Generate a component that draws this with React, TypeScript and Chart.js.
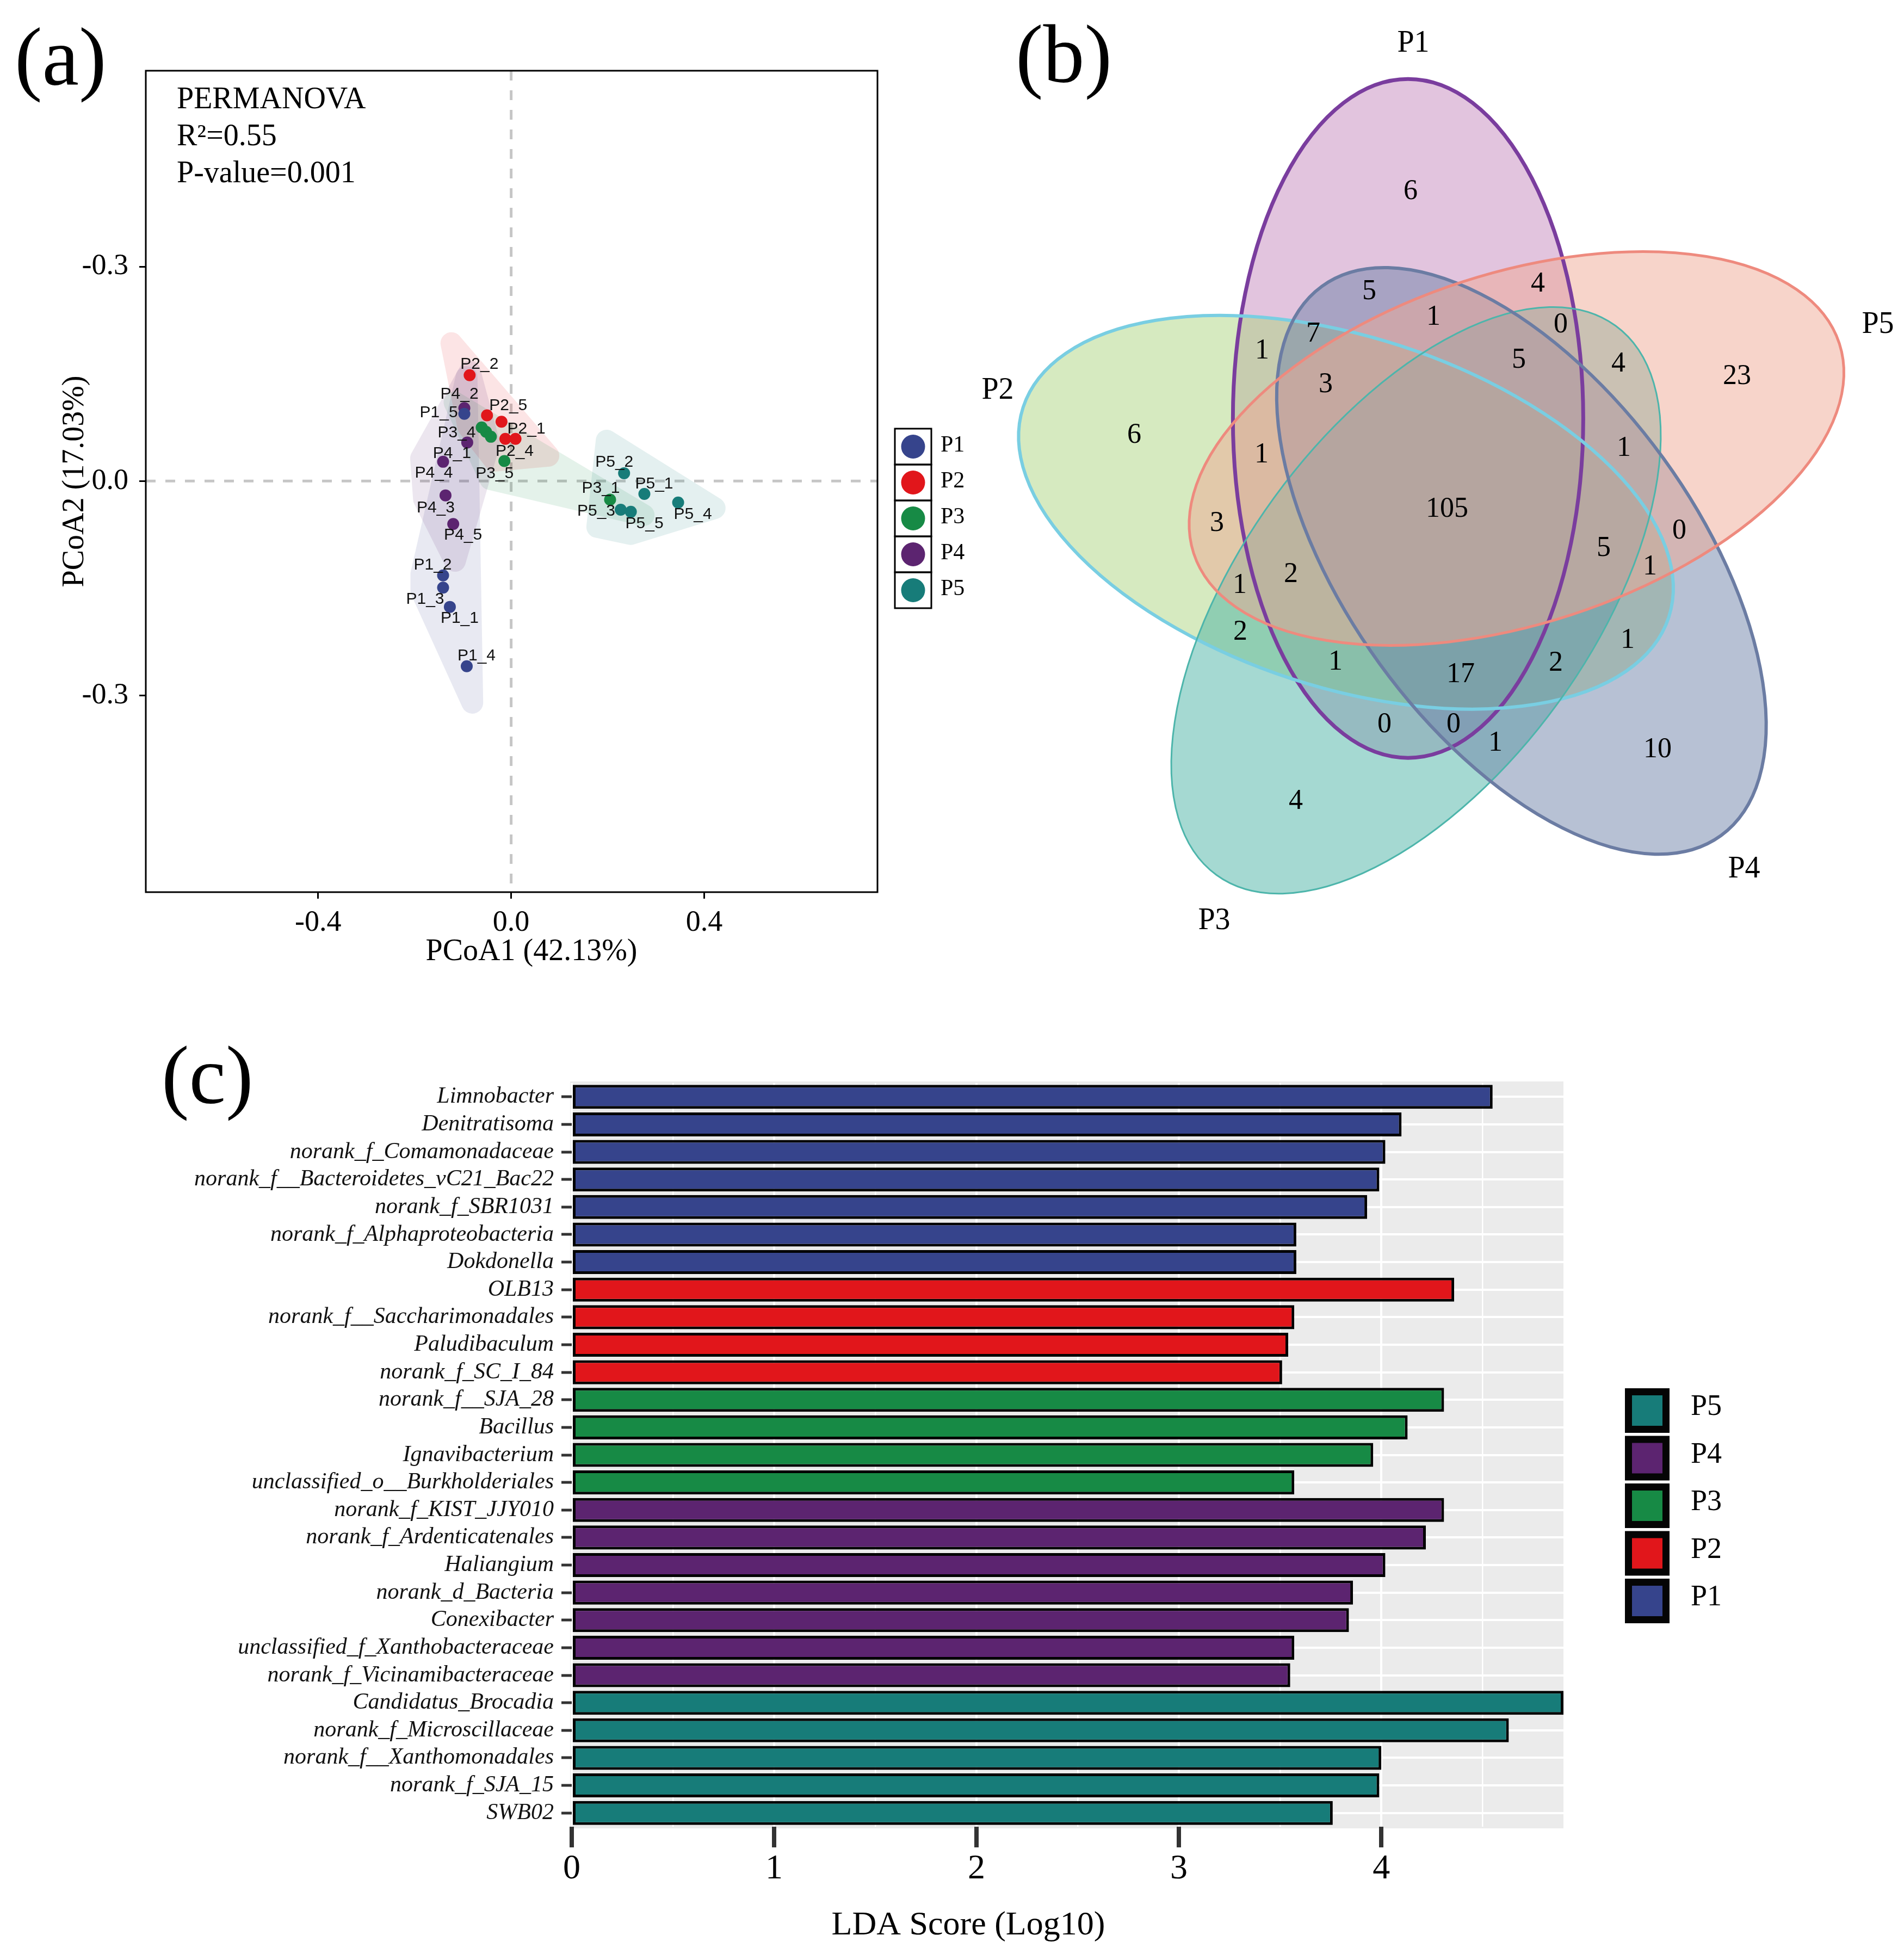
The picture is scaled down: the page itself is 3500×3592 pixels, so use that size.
import React, { useEffect, useRef } from 'react';
import { Chart, registerables } from 'chart.js';

Chart.register(...registerables);

const SERIF = '"Liberation Serif", "Times New Roman", Times, serif';
const SANS = '"Liberation Sans", Arial, Helvetica, sans-serif';

// ---------------- Panel (a): PCoA ----------------
const GROUP_NAMES = ['P1', 'P2', 'P3', 'P4', 'P5'];
const GROUP_COLORS = ['#36448C', '#E1161B', '#178A45', '#5C2470', '#177C79'];

const P1_LABELS = ['P1_1', 'P1_2', 'P1_3', 'P1_4', 'P1_5'];
const P1_X = [-0.127, -0.141, -0.141, -0.092, -0.097];
const P1_Y = [-0.176, -0.132, -0.149, -0.259, 0.094];

const P2_LABELS = ['P2_1', 'P2_2', '', 'P2_4', 'P2_5'];
const P2_X = [0.009, -0.086, -0.02, -0.012, -0.05];
const P2_Y = [0.059, 0.148, 0.083, 0.059, 0.092];

const P3_LABELS = ['P3_1', '', '', 'P3_4', 'P3_5'];
const P3_X = [0.205, -0.052, -0.042, -0.061, -0.014];
const P3_Y = [-0.026, 0.069, 0.062, 0.075, 0.028];

const P4_LABELS = ['P4_1', 'P4_2', 'P4_3', 'P4_4', 'P4_5'];
const P4_X = [-0.091, -0.097, -0.136, -0.141, -0.12];
const P4_Y = [0.054, 0.102, -0.02, 0.027, -0.06];

const P5_LABELS = ['P5_1', 'P5_2', 'P5_3', 'P5_4', 'P5_5'];
const P5_X = [0.276, 0.234, 0.227, 0.346, 0.248];
const P5_Y = [-0.018, 0.011, -0.04, -0.03, -0.043];

const PCOA_X_TICKS = [-0.4, 0, 0.4];
const PCOA_X_TICK_LABELS = ['-0.4', '0.0', '0.4'];
const PCOA_Y_TICKS = [-0.3, 0, 0.3];
const PCOA_Y_TICK_LABELS = ['-0.3', '0.0', '-0.3'];
const PERMANOVA_LINES = ['PERMANOVA', 'R\u00B2=0.55', 'P-value=0.001'];

// label placement offsets (px) for sample names (layout only)
const LABEL_OFFSETS: Record<string, [number, number]> = {
  P1_1: [18, 21], P1_2: [-19, -19], P1_3: [-33, 22], P1_4: [18, -19], P1_5: [-47, -2],
  P2_1: [20, -18], P2_2: [18, -20], P2_4: [17, 23], P2_5: [39, -18],
  P3_1: [-17, -21], P3_4: [-46, 10], P3_5: [-18, 23],
  P4_1: [-28, 20], P4_2: [-9, -26], P4_3: [-18, 23], P4_4: [-17, 21], P4_5: [18, 21],
  P5_1: [18, -18], P5_2: [-18, -20], P5_3: [-45, 3], P5_4: [27, 22], P5_5: [25, 22],
};

const PCOA_GROUPS = [
  { x: P1_X, y: P1_Y, labels: P1_LABELS },
  { x: P2_X, y: P2_Y, labels: P2_LABELS },
  { x: P3_X, y: P3_Y, labels: P3_LABELS },
  { x: P4_X, y: P4_Y, labels: P4_LABELS },
  { x: P5_X, y: P5_Y, labels: P5_LABELS },
];

// ---------------- Panel (b): Venn ----------------
const VENN_SETS = ['P1', 'P2', 'P3', 'P4', 'P5'];
const VENN_COUNTS = [6, 5, 4, 1, 0, 1, 7, 3, 5, 4, 23, 6, 1, 1, 105, 3, 0, 5, 1, 2, 1, 2, 1, 1, 17, 2, 0, 0, 1, 10, 4];
// layout: positions of the region counts in diagram units (px relative to diagram centre)
const VENN_COUNT_X = [-57, -133, 177, -15, 219, -330, -236, -213, 142, 325, 543, -565, -331, 335, 10, -413, 437, 298, 383, -277, -371, -370, 342, -195, 35, 210, -105, 22, 99, 397, -268];
const VENN_COUNT_Y = [-582, -398, -412, -351, -337, -289, -320, -227, -272, -265, -242, -134, -98, -110, 2, 28, 42, 74, 108, 122, 142, 228, 243, 283, 306, 285, 398, 398, 432, 444, 539];
const VENN_SET_LABEL_X = [-52, -816, -418, 556, 802];
const VENN_SET_LABEL_Y = [-854, -216, 759, 664, -337];
const VENN_FILLS = ['#C589BD', '#ADD581', '#4BB3A5', '#6F83A9', '#EFA995'];
const VENN_STROKES = ['#7A3D9E', '#79CEE2', '#4DB5AB', '#6B7CA3', '#EE8A7E'];
const VENN_STROKE_W = [7, 6, 3, 6, 5];
const VENN_STEP = [0, 4, 3, 2, 1]; // rotation step (x72 deg) of each ellipse

// ---------------- Panel (c): LDA ----------------
const LDA_TAXA = [
  'Limnobacter', 'Denitratisoma', 'norank_f_Comamonadaceae', 'norank_f__Bacteroidetes_vC21_Bac22',
  'norank_f_SBR1031', 'norank_f_Alphaproteobacteria', 'Dokdonella', 'OLB13', 'norank_f__Saccharimonadales',
  'Paludibaculum', 'norank_f_SC_I_84', 'norank_f__SJA_28', 'Bacillus', 'Ignavibacterium',
  'unclassified_o__Burkholderiales', 'norank_f_KIST_JJY010', 'norank_f_Ardenticatenales', 'Haliangium',
  'norank_d_Bacteria', 'Conexibacter', 'unclassified_f_Xanthobacteraceae', 'norank_f_Vicinamibacteraceae',
  'Candidatus_Brocadia', 'norank_f_Microscillaceae', 'norank_f__Xanthomonadales', 'norank_f_SJA_15', 'SWB02',
];
const LDA_SCORES = [4.55, 4.1, 4.02, 3.99, 3.93, 3.58, 3.58, 4.36, 3.57, 3.54, 3.51, 4.31, 4.13, 3.96, 3.57,
  4.31, 4.22, 4.02, 3.86, 3.84, 3.57, 3.55, 4.9, 4.63, 4.0, 3.99, 3.76];
const LDA_GROUP = ['P1', 'P1', 'P1', 'P1', 'P1', 'P1', 'P1', 'P2', 'P2', 'P2', 'P2', 'P3', 'P3', 'P3', 'P3',
  'P4', 'P4', 'P4', 'P4', 'P4', 'P4', 'P4', 'P5', 'P5', 'P5', 'P5', 'P5'];
const LDA_LEGEND = ['P5', 'P4', 'P3', 'P2', 'P1'];
const LDA_X_MAX = 4.9;

const colorOf = (g: string) => GROUP_COLORS[GROUP_NAMES.indexOf(g)];

function convexHull(points: number[][]): number[][] {
  const pts = points.slice().sort((a, b) => a[0] - b[0] || a[1] - b[1]);
  if (pts.length < 3) return pts;
  const cross = (o: number[], a: number[], b: number[]) => (a[0] - o[0]) * (b[1] - o[1]) - (a[1] - o[1]) * (b[0] - o[0]);
  const lower: number[][] = [];
  for (const p of pts) {
    while (lower.length >= 2 && cross(lower[lower.length - 2], lower[lower.length - 1], p) <= 0) lower.pop();
    lower.push(p);
  }
  const upper: number[][] = [];
  for (let i = pts.length - 1; i >= 0; i--) {
    const p = pts[i];
    while (upper.length >= 2 && cross(upper[upper.length - 2], upper[upper.length - 1], p) <= 0) upper.pop();
    upper.push(p);
  }
  upper.pop();
  lower.pop();
  return lower.concat(upper);
}

// expand a convex polygon with mitred corners (capped), giving pointed tips at acute vertices
function offsetHull(h: number[][], d: number, cap: number): number[][] {
  const n = h.length;
  if (n < 3) return h;
  const cx = h.reduce((s, p) => s + p[0], 0) / n;
  const cy = h.reduce((s, p) => s + p[1], 0) / n;
  const edgeNormal = (a: number[], b: number[]) => {
    const ex = b[0] - a[0], ey = b[1] - a[1];
    const len = Math.hypot(ex, ey) || 1;
    let nx = ey / len, ny = -ex / len;
    const mx = (a[0] + b[0]) / 2 - cx, my = (a[1] + b[1]) / 2 - cy;
    if (nx * mx + ny * my < 0) { nx = -nx; ny = -ny; }
    return [nx, ny];
  };
  return h.map((p, i) => {
    const a = h[(i - 1 + n) % n], b = h[(i + 1) % n];
    const n1 = edgeNormal(a, p), n2 = edgeNormal(p, b);
    let bx = n1[0] + n2[0], by = n1[1] + n2[1];
    const bl = Math.hypot(bx, by) || 1;
    bx /= bl; by /= bl;
    const c = Math.max(bx * n1[0] + by * n1[1], 1e-3);
    const dist = Math.min(d / c, d * cap);
    return [p[0] + bx * dist, p[1] + by * dist];
  });
}

function PcoaPanel() {
  const ref = useRef<HTMLCanvasElement>(null);
  useEffect(() => {
    const backdrop = {
      id: 'pcoaBackdrop',
      beforeDatasetsDraw(chart: any) {
        const { ctx, chartArea: ca, scales } = chart;
        const xs = scales.x, ys = scales.y;
        ctx.save();
        ctx.strokeStyle = '#C6C6C6';
        ctx.lineWidth = 5;
        ctx.setLineDash([18, 18]);
        const x0 = xs.getPixelForValue(0);
        const y0 = ys.getPixelForValue(0);
        ctx.beginPath();
        ctx.moveTo(x0, ca.top); ctx.lineTo(x0, ca.bottom);
        ctx.moveTo(ca.left, y0); ctx.lineTo(ca.right, y0);
        ctx.stroke();
        ctx.restore();
        const off = document.createElement('canvas');
        off.width = chart.canvas.width;
        off.height = chart.canvas.height;
        const o = off.getContext('2d')!;
        PCOA_GROUPS.forEach((g, gi) => {
          o.clearRect(0, 0, off.width, off.height);
          const pts = g.x.map((v, i) => [xs.getPixelForValue(v), ys.getPixelForValue(g.y[i])]);
          const h = offsetHull(convexHull(pts), 40, 1.7);
          o.beginPath();
          h.forEach((p, i) => (i ? o.lineTo(p[0], p[1]) : o.moveTo(p[0], p[1])));
          o.closePath();
          o.fillStyle = GROUP_COLORS[gi];
          o.strokeStyle = GROUP_COLORS[gi];
          o.lineWidth = 40;
          o.lineJoin = 'round';
          o.fill();
          o.stroke();
          ctx.save();
          ctx.globalAlpha = 0.115;
          ctx.drawImage(off, 0, 0);
          ctx.restore();
        });
      },
    };
    const overlay = {
      id: 'pcoaOverlay',
      afterDatasetsDraw(chart: any) {
        const { ctx, scales } = chart;
        ctx.save();
        ctx.fillStyle = '#111';
        ctx.font = `30px ${SANS}`;
        ctx.textAlign = 'center';
        ctx.textBaseline = 'middle';
        PCOA_GROUPS.forEach((g) => {
          g.labels.forEach((lab, i) => {
            if (!lab) return;
            const px = scales.x.getPixelForValue(g.x[i]);
            const py = scales.y.getPixelForValue(g.y[i]);
            const [dx, dy] = LABEL_OFFSETS[lab] || [18, -20];
            ctx.fillText(lab, px + dx, py + dy);
          });
        });
        ctx.restore();
      },
      afterDraw(chart: any) {
        const { ctx, chartArea: ca } = chart;
        ctx.save();
        ctx.strokeStyle = '#000';
        ctx.lineWidth = 3;
        ctx.strokeRect(ca.left, ca.top, ca.right - ca.left, ca.bottom - ca.top);
        ctx.fillStyle = '#000';
        ctx.font = `56px ${SERIF}`;
        ctx.textAlign = 'left';
        ctx.textBaseline = 'alphabetic';
        PERMANOVA_LINES.forEach((t, i) => ctx.fillText(t, ca.left + 57, ca.top + 69 + i * 68));
        // x axis title
        ctx.textAlign = 'center';
        ctx.textBaseline = 'middle';
        ctx.fillText('PCoA1 (42.13%)', 977, 1750);
        ctx.textAlign = 'left';
        // legend
        const lx = ca.right + 32, ly = 788, bw = 67, bh = 66;
        GROUP_NAMES.forEach((name, i) => {
          const top = ly + i * bh;
          ctx.lineWidth = 3;
          ctx.strokeStyle = '#000';
          ctx.strokeRect(lx, top, bw, bh);
          ctx.beginPath();
          ctx.fillStyle = GROUP_COLORS[i];
          ctx.arc(lx + bw / 2, top + bh / 2, 22, 0, Math.PI * 2);
          ctx.fill();
          ctx.fillStyle = '#000';
          ctx.font = `42px ${SERIF}`;
          ctx.textBaseline = 'middle';
          ctx.fillText(name, lx + bw + 17, top + bh / 2 - 2);
        });
        ctx.textBaseline = 'alphabetic';
        ctx.font = `152px ${SERIF}`;
        ctx.fillText('(a)', 27, 156);
        ctx.restore();
      },
    };
    const chart = new Chart(ref.current!, {
      type: 'scatter',
      data: {
        datasets: PCOA_GROUPS.map((g, gi) => ({
          label: GROUP_NAMES[gi],
          data: g.x.map((v, i) => ({ x: v, y: g.y[i] })),
          backgroundColor: GROUP_COLORS[gi],
          borderWidth: 0,
          pointRadius: 11,
          pointHoverRadius: 11,
        })),
      },
      options: {
        animation: false,
        responsive: false,
        devicePixelRatio: 1,
        events: [],
        layout: { padding: { left: 110, top: 130, right: 187, bottom: 0 } },
        plugins: { legend: { display: false }, tooltip: { enabled: false } },
        scales: {
          x: {
            type: 'linear', min: -0.757, max: 0.759,
            afterFit: (s: any) => { s.height = 160; },
            afterBuildTicks: (s: any) => { s.ticks = PCOA_X_TICKS.map((v) => ({ value: v })); },
            grid: { drawOnChartArea: false, drawTicks: true, tickLength: 12, tickWidth: 3, tickColor: '#000' },
            border: { display: false },
            ticks: {
              color: '#000', padding: 12, font: { family: SERIF, size: 54 },
              callback: (_v: any, i: number) => PCOA_X_TICK_LABELS[i],
            },
          },
          y: {
            type: 'linear', min: -0.575, max: 0.574,
            afterFit: (s: any) => { s.width = 158; },
            afterBuildTicks: (s: any) => { s.ticks = PCOA_Y_TICKS.map((v) => ({ value: v })); },
            grid: { drawOnChartArea: false, drawTicks: true, tickLength: 12, tickWidth: 3, tickColor: '#000' },
            border: { display: false },
            ticks: {
              color: '#000', padding: 20, font: { family: SERIF, size: 54 },
              callback: (_v: any, i: number) => PCOA_Y_TICK_LABELS[i],
            },
            title: {
              display: true, text: 'PCoA2 (17.03%)', color: '#000',
              font: { family: SERIF, size: 56, lineHeight: 1 }, padding: { top: 0, bottom: 0 },
            },
          },
        },
      } as any,
      plugins: [backdrop, overlay],
    });
    return () => chart.destroy();
  }, []);
  return <canvas ref={ref} width={1800} height={1800} style={{ position: 'absolute', left: 0, top: 0, width: 1800, height: 1800 }} />;
}

function VennPanel() {
  const ref = useRef<HTMLCanvasElement>(null);
  useEffect(() => {
    const A = 624, B = 322, R = 176, PHI0 = -110.5;
    const plugin = {
      id: 'venn',
      beforeDatasetsDraw(chart: any) {
        const { ctx, scales } = chart;
        const xs = scales.x, ys = scales.y;
        const kx = Math.abs(xs.getPixelForValue(1) - xs.getPixelForValue(0));
        const geo = VENN_SETS.map((_, i) => {
          const k = VENN_STEP[i];
          const phi = ((PHI0 + 72 * k) * Math.PI) / 180;
          const th = ((90 + 72 * k) * Math.PI) / 180;
          return {
            cx: xs.getPixelForValue(R * Math.cos(phi)),
            cy: ys.getPixelForValue(R * Math.sin(phi)),
            th,
          };
        });
        ctx.save();
        geo.forEach((g, i) => {
          ctx.beginPath();
          ctx.ellipse(g.cx, g.cy, A * kx, B * kx, g.th, 0, Math.PI * 2);
          ctx.globalAlpha = 0.5;
          ctx.fillStyle = VENN_FILLS[i];
          ctx.fill();
        });
        ctx.globalAlpha = 1;
        geo.forEach((g, i) => {
          ctx.beginPath();
          ctx.ellipse(g.cx, g.cy, A * kx, B * kx, g.th, 0, Math.PI * 2);
          ctx.strokeStyle = VENN_STROKES[i];
          ctx.lineWidth = VENN_STROKE_W[i];
          ctx.stroke();
        });
        ctx.restore();
      },
      afterDatasetsDraw(chart: any) {
        const { ctx } = chart;
        ctx.save();
        ctx.fillStyle = '#000';
        ctx.textAlign = 'center';
        ctx.textBaseline = 'middle';
        ctx.font = `52px ${SERIF}`;
        chart.getDatasetMeta(0).data.forEach((el: any, i: number) => {
          ctx.fillText(String(VENN_COUNTS[i]), el.x, el.y);
        });
        ctx.font = `56px ${SERIF}`;
        chart.getDatasetMeta(1).data.forEach((el: any, i: number) => {
          ctx.fillText(VENN_SETS[i], el.x, el.y);
        });
        ctx.textAlign = 'left';
        ctx.textBaseline = 'alphabetic';
        ctx.font = `152px ${SERIF}`;
        ctx.fillText('(b)', 1867 - 1750, 151);
        ctx.restore();
      },
    };
    const chart = new Chart(ref.current!, {
      type: 'scatter',
      data: {
        datasets: [
          { data: VENN_COUNT_X.map((v, i) => ({ x: v, y: VENN_COUNT_Y[i] })), pointRadius: 0 },
          { data: VENN_SET_LABEL_X.map((v, i) => ({ x: v, y: VENN_SET_LABEL_Y[i] })), pointRadius: 0 },
        ],
      },
      options: {
        animation: false,
        responsive: false,
        devicePixelRatio: 1,
        events: [],
        layout: { padding: 0 },
        plugins: { legend: { display: false }, tooltip: { enabled: false } },
        scales: {
          x: { type: 'linear', min: -900, max: 850, display: false },
          y: { type: 'linear', min: -934, max: 866, reverse: true, display: false },
        },
      } as any,
      plugins: [plugin],
    });
    return () => chart.destroy();
  }, []);
  return <canvas ref={ref} width={1750} height={1800} style={{ position: 'absolute', left: 1750, top: 0, width: 1750, height: 1800 }} />;
}

function LdaPanel() {
  const ref = useRef<HTMLCanvasElement>(null);
  useEffect(() => {
    const TOP = 1850;
    const plugin = {
      id: 'lda',
      beforeDraw(chart: any) {
        const { ctx, chartArea: ca } = chart;
        ctx.save();
        ctx.fillStyle = '#EBEBEB';
        ctx.fillRect(ca.left - 3, ca.top - 3, ca.right - ca.left + 3, ca.bottom - ca.top + 6);
        ctx.restore();
      },
      afterDraw(chart: any) {
        const { ctx } = chart;
        ctx.save();
        ctx.fillStyle = '#000';
        ctx.textAlign = 'center';
        ctx.textBaseline = 'middle';
        ctx.font = `62px ${SERIF}`;
        ctx.fillText('LDA Score (Log10)', 1780, 3540 - TOP);
        // legend
        const lx = 2987, ly = 2552 - TOP, bs = 82, pitch = 87.5, inset = 13;
        LDA_LEGEND.forEach((g, i) => {
          const top = ly + i * pitch;
          ctx.fillStyle = '#050505';
          ctx.fillRect(lx, top, bs, bs);
          ctx.fillStyle = colorOf(g);
          ctx.fillRect(lx + inset, top + inset, bs - 2 * inset, bs - 2 * inset);
          ctx.fillStyle = '#000';
          ctx.textAlign = 'left';
          ctx.textBaseline = 'alphabetic';
          ctx.font = `54px ${SERIF}`;
          ctx.fillText(g, 3108, top + 49);
        });
        ctx.font = `152px ${SERIF}`;
        ctx.fillText('(c)', 297, 2028 - TOP);
        ctx.restore();
      },
    };
    const chart = new Chart(ref.current!, {
      type: 'bar',
      data: {
        labels: LDA_TAXA,
        datasets: [{
          data: LDA_SCORES,
          backgroundColor: LDA_GROUP.map(colorOf),
          borderColor: '#000',
          borderWidth: 5,
          borderSkipped: false,
          barPercentage: 0.87,
          categoryPercentage: 1,
        }],
      },
      options: {
        indexAxis: 'y',
        animation: false,
        responsive: false,
        devicePixelRatio: 1,
        events: [],
        layout: { padding: { left: 351, top: 141, right: 626, bottom: 0 } },
        plugins: { legend: { display: false }, tooltip: { enabled: false } },
        scales: {
          x: {
            type: 'linear', min: 0, max: LDA_X_MAX,
            afterFit: (s: any) => { s.height = 234; },
            afterBuildTicks: (s: any) => {
              const t = [];
              for (let v = 0; v < LDA_X_MAX; v += 0.5) t.push({ value: v });
              s.ticks = t;
            },
            grid: {
              color: '#FFFFFF',
              lineWidth: (c: any) => (c.tick && Number.isInteger(c.tick.value) ? 4 : 2.5),
              drawTicks: true, tickLength: 38, tickWidth: 8,
              tickColor: (c: any) => (c.tick && Number.isInteger(c.tick.value) ? '#333333' : 'rgba(0,0,0,0)'),
            },
            border: { display: false },
            ticks: {
              autoSkip: false, maxRotation: 0, color: '#000', padding: 2,
              font: { family: SERIF, size: 64 },
              callback: (v: any) => (Number.isInteger(v) ? String(v) : ''),
            },
          },
          y: {
            type: 'category',
            afterFit: (s: any) => { s.width = 700; },
            grid: { color: '#FFFFFF', lineWidth: 4, offset: false, drawTicks: true, tickLength: 19, tickWidth: 5, tickColor: '#333333' },
            border: { display: false },
            ticks: {
              autoSkip: false, color: '#111', padding: 14,
              font: { family: SERIF, size: 42, style: 'italic' },
            },
          },
        },
      } as any,
      plugins: [plugin],
    });
    return () => chart.destroy();
  }, []);
  return <canvas ref={ref} width={3500} height={1742} style={{ position: 'absolute', left: 0, top: 1850, width: 3500, height: 1742 }} />;
}

export default function App() {
  useEffect(() => {
    document.body.style.margin = '0';
  }, []);
  return (
    <div style={{ position: 'relative', width: 3500, height: 3592, background: '#fff', overflow: 'hidden' }}>
      <LdaPanel />
      <PcoaPanel />
      <VennPanel />
    </div>
  );
}
